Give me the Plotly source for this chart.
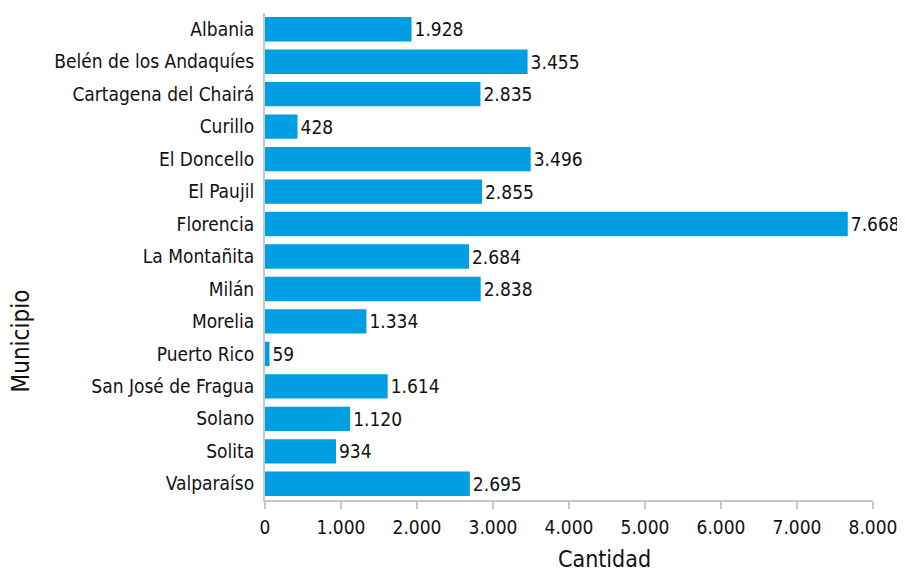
import plotly.graph_objects as go

municipios = ["Albania", "Belén de los Andaquíes", "Cartagena del Chairá", "Curillo",
              "El Doncello", "El Paujil", "Florencia", "La Montañita", "Milán", "Morelia",
              "Puerto Rico", "San José de Fragua", "Solano", "Solita", "Valparaíso"]
cantidad = [1928, 3455, 2835, 428, 3496, 2855, 7668, 2684, 2838, 1334, 59, 1614, 1120, 934, 2695]
x_ticks = [0, 1000, 2000, 3000, 4000, 5000, 6000, 7000, 8000]

FONT = "DejaVu Sans Condensed, Liberation Sans Narrow, sans-serif"

fig = go.Figure(go.Bar(
    y=municipios, x=cantidad, orientation="h",
    marker=dict(color="#009EE2", line=dict(width=0)),
    texttemplate="%{x:,d}", textposition="outside",
    textfont=dict(size=19, color="#111111", family=FONT),
    cliponaxis=False,
))

fig.update_layout(
    width=897, height=567,
    margin=dict(l=257, r=32, t=5, b=75),
    paper_bgcolor="white", plot_bgcolor="white",
    separators=",.",
    bargap=0.25,
    font=dict(family=FONT, size=19, color="#111111"),
    showlegend=False,
    annotations=[
        dict(text="Cantidad", xref="paper", yref="paper", x=0.559, y=-0.121,
             xanchor="center", yanchor="middle", showarrow=False,
             font=dict(size=23, color="#111111", family=FONT)),
        dict(text="Municipio", xref="paper", yref="paper", x=-0.401, y=0.326,
             xanchor="center", yanchor="middle", showarrow=False, textangle=-90,
             font=dict(size=24, color="#111111", family=FONT)),
    ],
)
fig.update_xaxes(
    range=[0, 8000], tickvals=x_ticks, tickformat=",d",
    showgrid=False, zeroline=False, automargin=False,
    showline=True, linecolor="#c8c8c8", linewidth=2,
    ticks="outside", ticklen=7, tickcolor="#c8c8c8", tickwidth=2,
    ticklabelstandoff=2,
    tickfont=dict(size=19),
)
fig.update_yaxes(
    autorange="reversed", automargin=False,
    showgrid=False, zeroline=False,
    showline=True, linecolor="#c8c8c8", linewidth=2,
    ticks="", ticklabelstandoff=5,
    tickfont=dict(size=19),
)

fig.write_html("out.html")
